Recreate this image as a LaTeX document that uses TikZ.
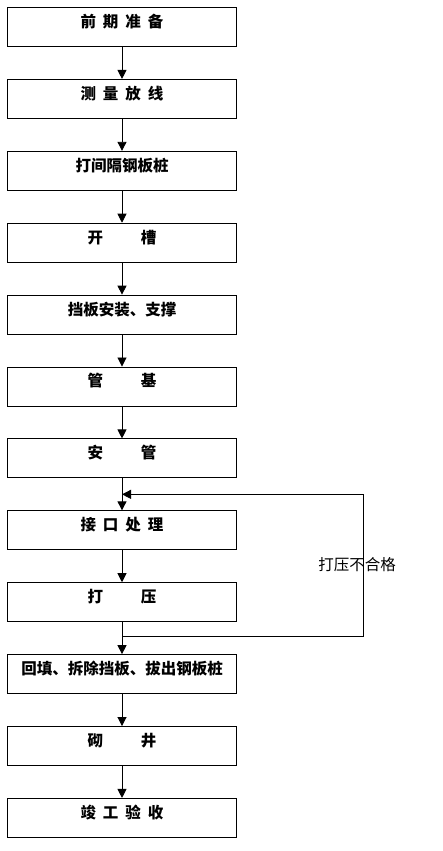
\documentclass[tikz,border=0pt]{standalone}
\usepackage{fontspec}
\newfontfamily\cjk{Noto Sans CJK SC}
\usetikzlibrary{positioning,arrows.meta,calc}

\newcommand{\gap}{\hspace{7pt}}
\newcommand{\widegap}{\hspace{38pt}}

\begin{document}
\begin{tikzpicture}[x=1pt, y=1pt,
    stepbox/.style={draw, line width=0.9pt, minimum width=229pt, minimum height=39pt,
      inner sep=0, text height=8pt, text depth=7pt,
      font=\cjk\bfseries\fontsize{15.5}{18}\selectfont},
    flow/.style={line width=0.9pt, -{Triangle[length=9pt,width=9pt]}},
    node distance=32pt]

  % Canvas
  \useasboundingbox (0,0) rectangle (443,851);

  % Process steps
  \node[stepbox] (prep) at (122,824) {前\gap 期\gap 准\gap 备};
  \node[stepbox, below=of prep] (survey) {测\gap 量\gap 放\gap 线};
  \node[stepbox, below=of survey] (piles) {打间隔钢板桩};
  \node[stepbox, below=of piles] (trench) {开\widegap 槽};
  \node[stepbox, below=of trench] (shoring) {挡板安装、支撑};
  \node[stepbox, below=of shoring] (bed) {管\widegap 基};
  \node[stepbox, below=of bed] (lay) {安\widegap 管};
  \node[stepbox, below=of lay] (joint) {接\gap 口\gap 处\gap 理};
  \node[stepbox, below=of joint] (test) {打\widegap 压};
  \node[stepbox, below=of test] (backfill) {回填、拆除挡板、拔出钢板桩};
  \node[stepbox, below=of backfill] (well) {砌\widegap 井};
  \node[stepbox, below=of well] (accept) {竣\gap 工\gap 验\gap 收};

  % Main arrows
  \draw[flow] (prep) -- (survey);
  \draw[flow] (survey) -- (piles);
  \draw[flow] (piles) -- (trench);
  \draw[flow] (trench) -- (shoring);
  \draw[flow] (shoring) -- (bed);
  \draw[flow] (bed) -- (lay);
  \draw[flow] (lay) -- (joint);
  \draw[flow] (joint) -- (test);
  \draw[flow] (test) -- (backfill);
  \draw[flow] (backfill) -- (well);
  \draw[flow] (well) -- (accept);

  % Retest loop
  \coordinate (loopin) at ($(lay.south)!0.5!(joint.north)$);
  \coordinate (loopout) at ([yshift=-14pt]test.south);
  \coordinate (loopside) at (363,0);
  \draw[flow] (loopout) -| (loopside |- loopin) -- (loopin);
  \node[font=\cjk\fontsize{15.5}{18}\selectfont] (fail) at (357,286) {打压不合格};

\end{tikzpicture}
\end{document}
